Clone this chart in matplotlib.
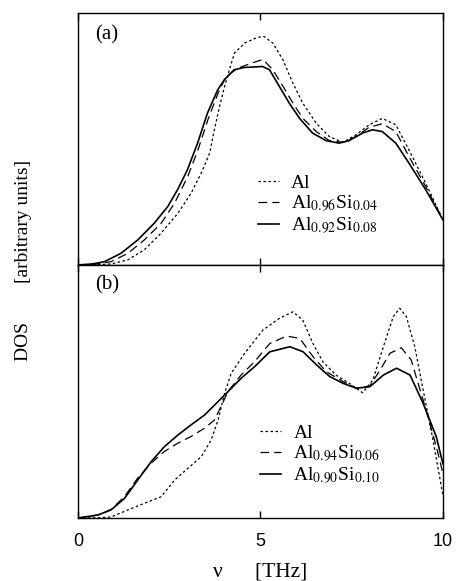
import matplotlib
matplotlib.use("Agg")
import matplotlib.pyplot as plt

plt.rcParams['font.family'] = 'Liberation Serif'
plt.rcParams['mathtext.fontset'] = 'stix'

# (a) Al / Al0.96Si0.04 / Al0.92Si0.08
a_al_x = [0, 0.5, 0.91, 1.37, 1.82, 2.28, 2.74, 3.10, 3.38, 3.61, 3.74, 3.88, 4.02, 4.15,
          4.29, 4.57, 4.93, 5.10, 5.34, 5.62, 5.89, 6.16, 6.53, 6.89, 7.26, 7.62, 7.98, 8.34,
          8.71, 9.07, 9.53, 10]
a_al_y = [0, 0.001, 0.004, 0.020, 0.060, 0.126, 0.205, 0.284, 0.364, 0.443, 0.536, 0.628,
          0.708, 0.774, 0.840, 0.880, 0.903, 0.906, 0.880, 0.813, 0.721, 0.642, 0.562, 0.509,
          0.486, 0.516, 0.556, 0.581, 0.556, 0.456, 0.324, 0.179]

a_si4_x = [0, 0.5, 0.91, 1.37, 1.82, 2.28, 2.65, 3.01, 3.29, 3.56, 3.84, 4.06, 4.38, 4.75,
           5.07, 5.34, 5.62, 5.89, 6.16, 6.53, 6.89, 7.26, 7.62, 7.98, 8.34, 8.71, 9.07, 9.53,
           10]
a_si4_y = [0, 0.003, 0.013, 0.046, 0.099, 0.165, 0.245, 0.351, 0.456, 0.575, 0.681, 0.747,
           0.780, 0.800, 0.815, 0.774, 0.708, 0.642, 0.582, 0.529, 0.493, 0.486, 0.509, 0.546,
           0.560, 0.529, 0.430, 0.311, 0.179]

a_si8_x = [0, 0.4, 0.73, 1.18, 1.64, 2.09, 2.46, 2.73, 3.00, 3.28, 3.55, 3.83, 4.01, 4.28,
           4.55, 5.06, 5.25, 5.52, 5.79, 6.07, 6.43, 6.80, 7.16, 7.43, 7.80, 8.07, 8.34, 8.71,
           9.07, 9.53, 10]
a_si8_y = [0, 0.004, 0.013, 0.046, 0.099, 0.165, 0.231, 0.298, 0.377, 0.483, 0.602, 0.694,
           0.734, 0.774, 0.783, 0.787, 0.774, 0.708, 0.642, 0.582, 0.523, 0.493, 0.483, 0.493,
           0.523, 0.536, 0.529, 0.483, 0.404, 0.298, 0.179]

# (b) Al / Al0.94Si0.06 / Al0.90Si0.10
b_al_x = [0, 0.5, 0.91, 1.37, 1.82, 2.28, 2.65, 3.01, 3.38, 3.65, 3.84, 4.02, 4.20, 4.57,
          5.07, 5.52, 5.89, 6.16, 6.44, 6.71, 7.07, 7.44, 7.80, 8.08, 8.37, 8.64, 8.82, 9.00,
          9.23, 9.46, 9.73, 10]
b_al_y = [0, 0.001, 0.004, 0.032, 0.058, 0.084, 0.150, 0.196, 0.242, 0.308, 0.387, 0.493,
          0.572, 0.651, 0.743, 0.789, 0.815, 0.783, 0.690, 0.618, 0.565, 0.532, 0.495, 0.545,
          0.677, 0.796, 0.829, 0.796, 0.677, 0.506, 0.308, 0.090]

b_si6_x = [0, 0.55, 0.91, 1.28, 1.64, 2.01, 2.37, 2.74, 3.10, 3.47, 3.74, 3.92, 4.11, 4.47,
           4.84, 5.26, 5.72, 6.08, 6.44, 6.81, 7.27, 7.63, 8.00, 8.28, 8.55, 8.86, 9.13, 9.46,
           9.82, 10]
b_si6_y = [0, 0.012, 0.034, 0.085, 0.158, 0.217, 0.263, 0.296, 0.322, 0.355, 0.387, 0.440,
           0.499, 0.565, 0.618, 0.690, 0.719, 0.710, 0.638, 0.578, 0.539, 0.513, 0.522, 0.585,
           0.651, 0.673, 0.625, 0.466, 0.282, 0.177]

b_si10_x = [0, 0.55, 0.91, 1.28, 1.64, 2.01, 2.37, 2.74, 3.10, 3.47, 3.84, 4.11, 4.47, 4.84,
            5.26, 5.81, 6.17, 6.54, 6.90, 7.27, 7.63, 8.00, 8.37, 8.73, 9.10, 9.46, 9.82, 10]
b_si10_y = [0, 0.012, 0.032, 0.078, 0.150, 0.223, 0.282, 0.328, 0.368, 0.407, 0.460, 0.499,
            0.552, 0.598, 0.657, 0.677, 0.657, 0.605, 0.559, 0.532, 0.513, 0.519, 0.565, 0.592,
            0.565, 0.453, 0.321, 0.215]

labels_a = ['Al', r'Al$_{0.96}$Si$_{0.04}$', r'Al$_{0.92}$Si$_{0.08}$']
labels_b = ['Al', r'Al$_{0.94}$Si$_{0.06}$', r'Al$_{0.90}$Si$_{0.10}$']
xticks = [0, 5, 10]

fig = plt.figure(figsize=(4.58, 5.81), dpi=100)
ax_a = fig.add_axes([0.170, 0.544, 0.797, 0.434])
ax_b = fig.add_axes([0.170, 0.1084, 0.797, 0.4355])

dot = (0, (2.0, 2.0))
dash = (0, (7.0, 4.0))

def draw(ax, series, labels, tag, tag_y, leg_xy):
    (x1, y1), (x2, y2), (x3, y3) = series
    ax.plot(x1, y1, color='black', lw=0.9, linestyle=dot, label=labels[0])
    ax.plot(x2, y2, color='black', lw=0.9, linestyle=dash, label=labels[1])
    ax.plot(x3, y3, color='black', lw=1.2, linestyle='-', label=labels[2])
    ax.set_xlim(0, 10)
    ax.set_ylim(0, 1)
    ax.set_yticks([])
    ax.set_xticks(xticks)
    ax.tick_params(axis='x', direction='in', top=True, bottom=True, length=5, width=1)
    for s in ax.spines.values():
        s.set_linewidth(1.0)
    ax.text(0.047, tag_y, tag, transform=ax.transAxes, fontsize=15, va='center', ha='left')
    ax.legend(loc='upper left', bbox_to_anchor=leg_xy, frameon=False, fontsize=14,
              handlelength=1.05, handletextpad=0.65, labelspacing=0.1,
              borderpad=0, borderaxespad=0)

draw(ax_a, [(a_al_x, a_al_y), (a_si4_x, a_si4_y), (a_si8_x, a_si8_y)], labels_a, '(a)',
     0.913, (0.494, 0.361))
draw(ax_b, [(b_al_x, b_al_y), (b_si6_x, b_si6_y), (b_si10_x, b_si10_y)], labels_b, '(b)',
     0.92, (0.50, 0.372))

ax_a.tick_params(axis='x', labelbottom=False)
ax_b.tick_params(axis='x', pad=11)
for t in ax_b.get_xticklabels():
    t.set_family('Liberation Sans')
    t.set_fontsize(13)

fig.text(213 / 458, 1 - 572 / 581, 'ν      [THz]', fontsize=15.5, ha='left', va='center')
fig.text(24 / 458, 1 - 260 / 581, 'DOS        [arbitrary units]', fontsize=14, rotation=90,
         ha='center', va='center')

fig.savefig('out.png', dpi=100)
